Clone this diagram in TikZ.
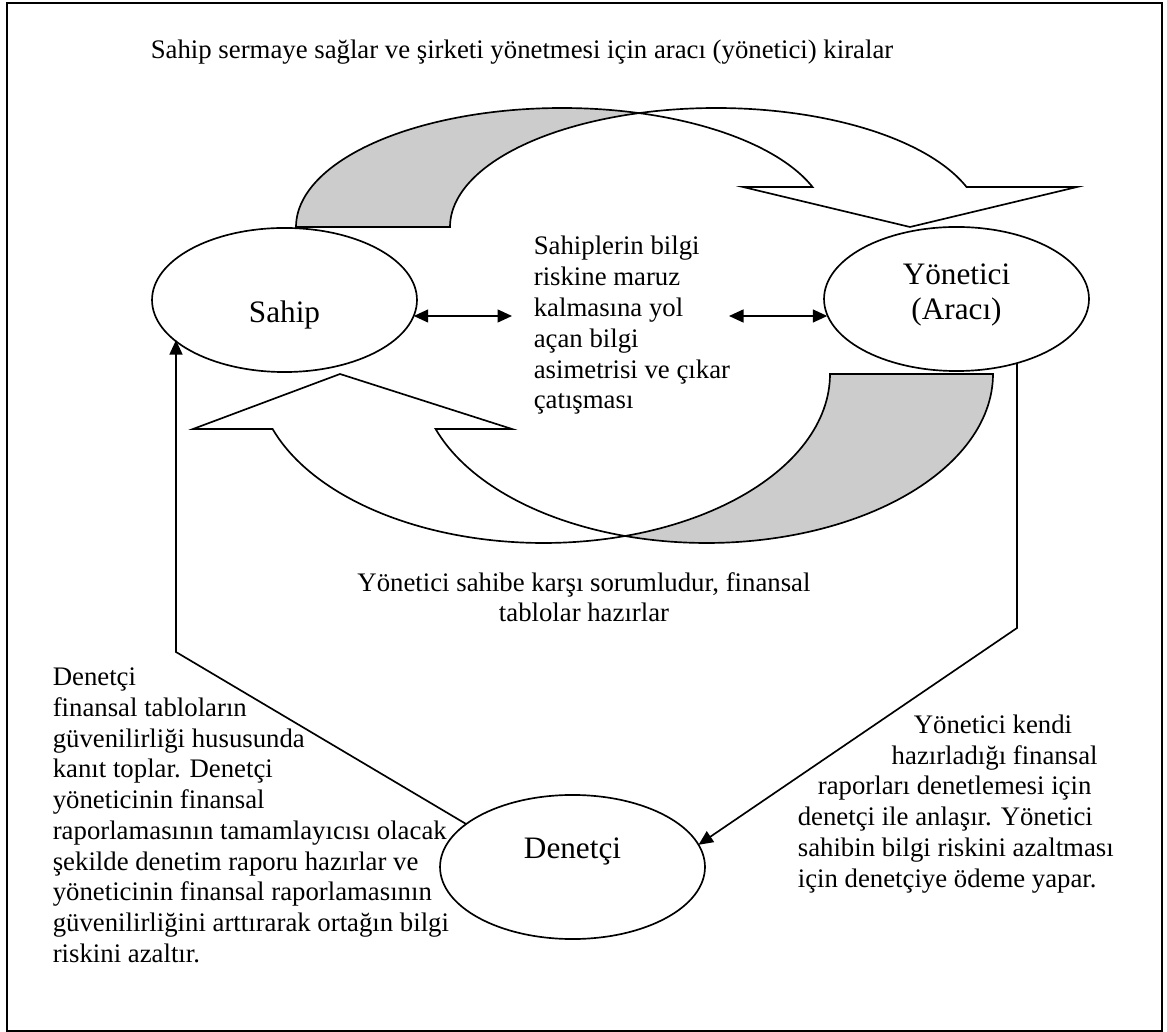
\documentclass[tikz,border=0pt]{standalone}
\usepackage{fontspec}
\setmainfont{Liberation Serif}
\usetikzlibrary{arrows.meta,shapes.geometric}
\definecolor{backgray}{RGB}{204,204,204}
\begin{document}
\begin{tikzpicture}[x=0.4484pt,y=-0.4484pt,
  line width=0.75pt, line join=miter,
  party/.style={draw, ellipse, fill=white, minimum width=118.8pt, minimum height=64.6pt, inner sep=0pt, outer sep=0pt},
  partyname/.style={font=\fontsize{14pt}{15.7pt}\selectfont, align=center, inner sep=0pt},
  body/.style={font=\fontsize{12pt}{13.8pt}\selectfont, align=left, inner sep=0pt},
  conn/.style={-{Triangle[length=6.5pt,width=5.8pt]}},
  dbl/.style={{Triangle[length=6.5pt,width=5.8pt]}-{Triangle[length=6.5pt,width=5.8pt]}},
  band/.style={draw, fill=white},
  backband/.style={draw, fill=backgray},
  frame/.style={draw, line width=1pt}
]
\useasboundingbox (0,0) rectangle (1167,1032);
\draw[frame] (7,3) rectangle (1162,1031);

% title
\node[body, anchor=base] (title) at (522,59)
  {Sahip sermaye sağlar ve şirketi yönetmesi için aracı (yönetici) kiralar};

% upper curved arrow: back part
\path[backband]
  plot[domain=180:73.17, samples=70] ({562+266*cos(\x)},{227-119*sin(\x)})
  -- plot[domain=106.83:180, samples=50] ({716+266*cos(\x)},{227-119*sin(\x)})
  -- cycle;
% upper curved arrow: front part with head
\path[band]
  plot[domain=106.83:19.64, samples=70] ({716+266*cos(\x)},{227-119*sin(\x)})
  -- (1077,187) -- (910,227) -- (743,187)
  -- plot[domain=19.64:73.17, samples=40] ({562+266*cos(\x)},{227-119*sin(\x)})
  -- cycle;

% lower curved arrow: back part
\path[backband]
  plot[domain=-106.53:0, samples=70] ({706.5+286.5*cos(\x)},{374-169*sin(\x)})
  -- plot[domain=0:-73.47, samples=50] ({543.5+286.5*cos(\x)},{374-169*sin(\x)})
  -- cycle;
% lower curved arrow: front part with head
\path[band]
  plot[domain=-73.47:-161.01, samples=70] ({543.5+286.5*cos(\x)},{374-169*sin(\x)})
  -- (193,429) -- (340,374) -- (512,429)
  -- plot[domain=-161.01:-106.53, samples=40] ({706.5+286.5*cos(\x)},{374-169*sin(\x)})
  -- cycle;

% parties
\node[party] (sahip) at (284.5,300) {};
\node[party] (yonetici) at (956.5,299) {};
\node[party] (denetci) at (572.5,867) {};
\node[partyname, anchor=base] (sahipname) at (284.5,323) {Sahip};
\node[partyname, anchor=center] (yonname) at (956.5,295.3) {Yönetici\\(Aracı)};
\node[partyname, anchor=base] (denname) at (572.5,858) {Denetçi};

% information asymmetry
\node[body, anchor=north west] (gap) at (533,235.5)
  {Sahiplerin bilgi\\riskine maruz\\kalmasına yol\\açan bilgi\\asimetrisi ve çıkar\\çatışması};
\coordinate (d1) at (512,316);
\coordinate (d2) at (729,316);
\draw[dbl] (sahip.353 |- d1) -- (d1);
\draw[dbl] (d2) -- (yonetici.187 |- d2);

\node[body, align=center, anchor=north] (report) at (584,571.5)
  {Yönetici sahibe karşı sorumludur, finansal\\tablolar hazırlar};

% audit relations
\coordinate (k1) at (176,652);
\coordinate (k2) at (1017,628);
\draw[conn] (denetci.158.7) -- (k1) -- (k1 |- sahip.200.7);
\draw[conn] (k2 |- yonetici.313.4) -- (k2) -- (denetci.10);

\node[body, anchor=north west] (audtext) at (52,667)
  {Denetçi\\finansal tabloların\\güvenilirliği hususunda\\kanıt toplar. Denetçi\\yöneticinin finansal\\raporlamasının tamamlayıcısı olacak\\şekilde denetim raporu hazırlar ve\\yöneticinin finansal raporlamasının\\güvenilirliğini arttırarak ortağın bilgi\\riskini azaltır.};

\node[body, anchor=north west] (paytext) at (797,714)
  {\hspace*{52pt}Yönetici kendi\\\hspace*{42.1pt}hazırladığı finansal\\\hspace*{9pt}raporları denetlemesi için\\denetçi ile anlaşır. Yönetici\\sahibin bilgi riskini azaltması\\için denetçiye ödeme yapar.};
\end{tikzpicture}
\end{document}
